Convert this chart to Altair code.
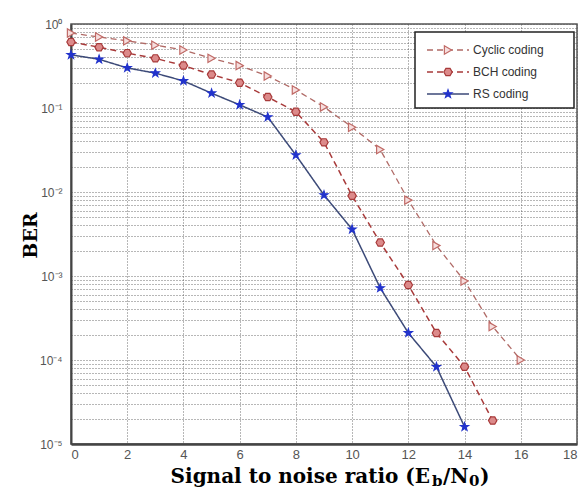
import altair as alt
import pandas as pd

# ---- data ----
series_names = ["Cyclic coding", "BCH coding", "RS coding"]
snr_cyclic = list(range(0, 17))
ber_cyclic = [0.78, 0.70, 0.63, 0.56, 0.49, 0.39, 0.32, 0.24, 0.164, 0.103,
              0.059, 0.032, 0.008, 0.0023, 8.7e-4, 2.5e-4, 1.0e-4]
snr_bch = list(range(0, 16))
ber_bch = [0.61, 0.53, 0.45, 0.39, 0.32, 0.25, 0.20, 0.135, 0.090, 0.039,
           0.0090, 0.0025, 7.8e-4, 2.1e-4, 8.3e-5, 1.9e-5]
snr_rs = list(range(0, 15))
ber_rs = [0.43, 0.38, 0.30, 0.26, 0.21, 0.15, 0.109, 0.078, 0.0275, 0.0092,
          0.0036, 7.2e-4, 2.1e-4, 8.3e-5, 1.6e-5]

x_ticks = list(range(0, 19, 2))
y_ticks = [k * 10.0 ** d for d in range(-5, 0) for k in range(1, 10)] + [1.0]

rows = []
for name, xs, ys in [(series_names[0], snr_cyclic, ber_cyclic),
                     (series_names[1], snr_bch, ber_bch),
                     (series_names[2], snr_rs, ber_rs)]:
    for a, b in zip(xs, ys):
        rows.append({"series": name, "snr": a, "ber": b})
df = pd.DataFrame(rows)

# ---- styles ----
HEX = "M1,0L0.5,0.866L-0.5,0.866L-1,0L-0.5,-0.866L0.5,-0.866Z"
STAR = ("M0,-1L0.235,-0.324L0.951,-0.309L0.38,0.124L0.588,0.809L0,0.4"
        "L-0.588,0.809L-0.38,0.124L-0.951,-0.309L-0.235,-0.324Z")
styles = {
    "Cyclic coding": dict(line="#b06a66", dash=[6, 4], shape="triangle-right",
                          fill="#f6dede", stroke="#c06a66", width=1.3),
    "BCH coding": dict(line="#a83a3a", dash=[6, 4], shape=HEX,
                       fill="#dc8a8a", stroke="#a83a3a", width=1.5),
    "RS coding": dict(line="#3c4a78", dash=[1, 0], shape=STAR,
                      fill="#2233cc", stroke="#2233cc", width=1.5),
}

label_expr = ("abs(log(datum.value)/LN10 - round(log(datum.value)/LN10)) > 0.001 ? '' : "
              "'10' + ['\u2070','\u207b\u00b9','\u207b\u00b2','\u207b\u00b3','\u207b\u2074','\u207b\u2075']"
              "[-round(log(datum.value)/LN10)]")

x_enc = alt.X("snr:Q",
              scale=alt.Scale(domain=[0, 18], nice=False, zero=False),
              axis=alt.Axis(values=x_ticks, format="d", title=None, grid=True,
                            gridDash=[1, 2], gridColor="#555", gridOpacity=0.85,
                            ticks=False, labelPadding=4, labelFontSize=13,
                            labelColor="#555", labelFont="Liberation Sans",
                            domainColor="#444", domainWidth=2.5))
y_enc = alt.Y("ber:Q",
              scale=alt.Scale(type="log", domain=[1e-5, 1], nice=False),
              axis=alt.Axis(values=y_ticks, labelExpr=label_expr, labelOverlap=False,
                            title="BER", titleFont="DejaVu Serif", titleFontSize=19,
                            titleFontWeight="bold", titleColor="black",
                            titleX=-41, titleY=211, titleAngle=-90,
                            titleAlign="center", titleBaseline="middle",
                            grid=True, gridDash=[1, 2], gridColor="#555",
                            gridOpacity=0.85, ticks=False, labelPadding=9,
                            labelFontSize=12, labelColor="#555",
                            labelFont="Liberation Sans",
                            domainColor="#444", domainWidth=2))

base = alt.Chart(df)
layers = []
for name in series_names:
    s = styles[name]
    sub = base.transform_filter(alt.datum.series == name)
    layers.append(sub.mark_line(color=s["line"], strokeDash=s["dash"],
                                strokeWidth=s["width"]).encode(x=x_enc, y=y_enc))
for name in series_names:
    s = styles[name]
    sub = base.transform_filter(alt.datum.series == name)
    layers.append(sub.mark_point(shape=s["shape"], filled=True, fill=s["fill"],
                                 stroke=s["stroke"], strokeWidth=1.2, size=70,
                                 opacity=1).encode(x=x_enc, y=y_enc))

# ---- legend box (drawn by hand) ----
one = pd.DataFrame({"k": [0]})
layers.append(alt.Chart(one).mark_rect(fill="white", stroke="#222", strokeWidth=1.5).encode(
    x=alt.value(344), x2=alt.value(503), y=alt.value(8), y2=alt.value(84)))
legend_y = [26, 48, 70]
for name, ly in zip(series_names, legend_y):
    s = styles[name]
    d = pd.DataFrame({"name": [name]})
    layers.append(alt.Chart(d).mark_rule(color=s["line"], strokeDash=s["dash"],
                                         strokeWidth=s["width"]).encode(
        x=alt.value(356), x2=alt.value(398), y=alt.value(ly)))
    layers.append(alt.Chart(d).mark_point(shape=s["shape"], filled=True, fill=s["fill"],
                                          stroke=s["stroke"], strokeWidth=1.2, size=70,
                                          opacity=1).encode(
        x=alt.value(377), y=alt.value(ly)))
    layers.append(alt.Chart(d).mark_text(align="left", baseline="middle", fontSize=12,
                                         font="Liberation Sans", color="#333").encode(
        x=alt.value(402), y=alt.value(ly), text="name:N"))

# ---- x-axis title with subscripts ----
title_parts = [
    ("Signal to noise ratio (E", "right", 359, 459, 20),
    ("b", "left", 361, 462, 15),
    ("/N", "left", 372, 459, 20),
    ("0", "left", 398, 462, 15),
    (")", "left", 409, 459, 20),
]
for txt, al, px, py, fs in title_parts:
    d = pd.DataFrame({"t": [txt]})
    layers.append(alt.Chart(d).mark_text(align=al, baseline="alphabetic", fontSize=fs,
                                         font="DejaVu Serif", fontWeight="bold",
                                         color="black").encode(
        x=alt.value(px), y=alt.value(py), text="t:N"))

chart = alt.layer(*layers).properties(
    width=506, height=420,
    autosize=alt.AutoSizeParams(type="none"),
    padding={"left": 63, "top": 16, "right": 1, "bottom": 46},
    background="white",
).configure_view(stroke="#555", strokeWidth=1.5)

chart.save("out.html", embed_options={"renderer": "svg", "actions": False})
